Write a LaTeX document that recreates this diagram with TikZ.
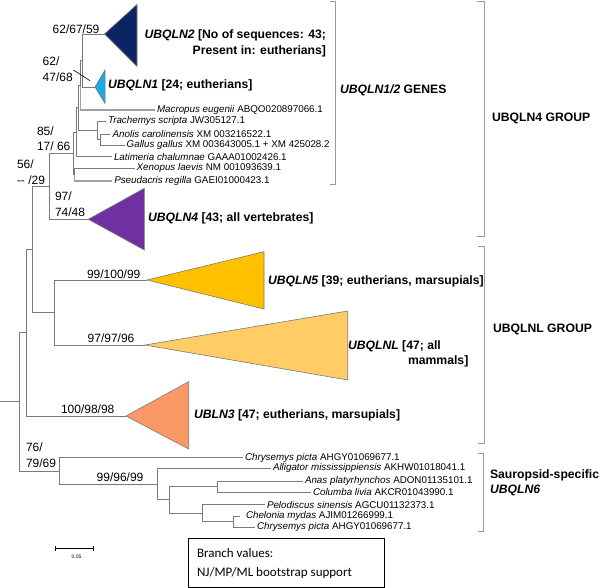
\documentclass[tikz,border=0pt]{standalone}
\usepackage{fontspec}
\setmainfont{Liberation Sans}
\newfontfamily\boxfont{Carlito}
\definecolor{treegray}{HTML}{7A7A7A}
\definecolor{lightgray}{HTML}{A0A0A0}
\definecolor{brkgray}{HTML}{9A9A9A}
\definecolor{cNavy}{HTML}{0B2462}
\definecolor{cSky}{HTML}{1EAAE4}
\definecolor{cPurple}{HTML}{7030A0}
\definecolor{cGold}{HTML}{FFC000}
\definecolor{cLight}{HTML}{FFCC66}
\definecolor{cSalmon}{HTML}{FA9966}
\begin{document}
\begin{tikzpicture}[x=1pt,y=-1pt,
  br/.style={draw=treegray, line width=0.8pt},
  brthick/.style={draw=lightgray, line width=1.3pt},
  boot/.style={font=\fontsize{12}{14}\selectfont, inner sep=0pt, outer sep=0pt, anchor=west},
  leaf/.style={font=\fontsize{9.8}{11}\selectfont, inner sep=0pt, outer sep=0pt, anchor=west},
  clade/.style={font=\bfseries\fontsize{12.2}{14}\selectfont, inner sep=0pt, outer sep=0pt, anchor=west},
  tri/.style={draw=treegray, line width=0.6pt},
  brk/.style={draw=brkgray, line width=0.9pt}]
\useasboundingbox (0,0) rectangle (600,588);

% ---- leaf / apex coordinates
\coordinate (tU2) at (104.5,34);
\coordinate (tU1) at (95,87);
\coordinate (lMac) at (155,110);
\coordinate (lTra) at (106,121);
\coordinate (lAno) at (110,134);
\coordinate (lGal) at (125,145);
\coordinate (lLat) at (112,156.5);
\coordinate (lXen) at (135,168);
\coordinate (lPse) at (112,181);
\coordinate (tU4) at (88.3,219.3);
\coordinate (tU5) at (147,280);
\coordinate (tUL) at (145,345);
\coordinate (tU3) at (126,416);
\coordinate (lChr) at (243,457.7);
\coordinate (lAll) at (271,468.3);
\coordinate (lAna) at (303,481);
\coordinate (lCol) at (311,492);
\coordinate (lPel) at (265,504.5);
\coordinate (lChe) at (240,516);
\coordinate (lChr2) at (255,527);

% ---- internal nodes
\coordinate (n12) at (82.5,60.5);
\coordinate (nMac) at (80.5,85.25);
\coordinate (nAG) at (100,139.5);
\coordinate (nT) at (97,130.25);
\coordinate (nA) at (78,107.75);
\coordinate (nLat) at (76,132.1);
\coordinate (nXP) at (74.5,174.5);
\coordinate (nTop) at (73,153.3);
\coordinate (n85) at (49,186.2);
\coordinate (n5L) at (54,312.5);
\coordinate (n56) at (32,249.3);
\coordinate (n3) at (26,332.7);
\coordinate (nAC) at (217,486.5);
\coordinate (nCC) at (233,521.5);
\coordinate (nPC) at (202,513);
\coordinate (n169) at (169,499.75);
\coordinate (n99) at (157.7,484);
\coordinate (n76) at (59,470.9);
\coordinate (root) at (19,401.8);
\coordinate (rootstart) at (0,401.8);

% ---- triangles (collapsed clades)
\filldraw[tri, fill=cNavy] (tU2) -- (137,4.5) -- (137,66.5) -- cycle;
\filldraw[tri, fill=cSky] (tU1) -- (105,70) -- (105,103.5) -- cycle;
\filldraw[tri, fill=cPurple] (tU4) -- (144.3,188.3) -- (144.3,250) -- cycle;
\filldraw[tri, fill=cGold] (tU5) -- (264,251.7) -- (264,309) -- cycle;
\filldraw[tri, fill=cLight] (tUL) -- (347.7,311) -- (347.7,380) -- cycle;
\filldraw[tri, fill=cSalmon] (tU3) -- (188.7,381.7) -- (188.7,449) -- cycle;

% ---- branches
\draw[br] (n12) |- (tU2);
\draw[br] (n12) |- (tU1);
\draw[br] (nMac) |- (n12);
\draw[brthick] (nMac) |- (lMac);
\draw[br] (nAG) |- (lAno);
\draw[br] (nAG) |- (lGal);
\draw[br] (nT) |- (lTra);
\draw[br] (nT) |- (nAG);
\draw[br] (nA) |- (nMac);
\draw[br] (nA) |- (nT);
\draw[br] (nLat) |- (nA);
\draw[br] (nLat) |- (lLat);
\draw[br] (nXP) |- (lXen);
\draw[brthick] (nXP) |- (lPse);
\draw[br] (nTop) |- (nLat);
\draw[br] (nTop) |- (nXP);
\draw[br] (n85) |- (nTop);
\draw[br] (n85) |- (tU4);
\draw[br] (n5L) |- (tU5);
\draw[br] (n5L) |- (tUL);
\draw[br] (n56) |- (n85);
\draw[br] (n56) |- (n5L);
\draw[br] (n3) |- (n56);
\draw[br] (n3) |- (tU3);
\draw[br] (nAC) |- (lAna);
\draw[br] (nAC) |- (lCol);
\draw[br] (nCC) |- (lChe);
\draw[br] (nCC) |- (lChr2);
\draw[br] (nPC) |- (lPel);
\draw[br] (nPC) |- (nCC);
\draw[br] (n169) |- (nAC);
\draw[br] (n169) |- (nPC);
\draw[br] (n99) |- (lAll);
\draw[br] (n99) |- (n169);
\draw[br] (n76) |- (lChr);
\draw[br] (n76) |- (n99);
\draw[br] (root) |- (n3);
\draw[br] (root) |- (n76);
\draw[br] (rootstart) -- (root);

% ---- leaf labels
\node[leaf] (xMac) at (157,110) {\textit{Macropus eugenii} ABQO020897066.1};
\node[leaf] (xTra) at (108,121) {\textit{Trachemys scripta} JW305127.1};
\node[leaf] (xAno) at (112.7,134) {\textit{Anolis carolinensis} XM 003216522.1};
\node[leaf] (xGal) at (126.7,145) {\textit{Gallus gallus} XM 003643005.1 + XM 425028.2};
\node[leaf] (xLat) at (114,156.5) {\textit{Latimeria chalumnae} GAAA01002426.1};
\node[leaf] (xXen) at (136.7,168) {\textit{Xenopus laevis} NM 001093639.1};
\node[leaf] (xPse) at (114.3,181) {\textit{Pseudacris regilla} GAEI01000423.1};
\node[leaf] (xChr) at (245,457.7) {\textit{Chrysemys picta} AHGY01069677.1};
\node[leaf] (xAll) at (273,468.3) {\textit{Alligator mississippiensis} AKHW01018041.1};
\node[leaf] (xAna) at (305,481) {\textit{Anas platyrhynchos} ADON01135101.1};
\node[leaf] (xCol) at (313,492) {\textit{Columba livia} AKCR01043990.1};
\node[leaf] (xPel) at (267,504.5) {\textit{Pelodiscus sinensis} AGCU01132373.1};
\node[leaf] (xChe) at (246,516) {\textit{Chelonia mydas} AJIM01266999.1};
\node[leaf] (xChr2) at (257,527) {\textit{Chrysemys picta} AHGY01069677.1};

% ---- clade labels
\node[clade, anchor=east] (cU2a) at (326,35) {\textit{UBQLN2} [No of sequences: 43;};
\node[clade, anchor=east] (cU2b) at (326,51.7) {Present in: eutherians]};
\node[clade] (cU1) at (108,85) {\textit{UBQLN1} [24; eutherians]};
\node[clade] (cU4) at (148,218) {\textit{UBQLN4} [43; all vertebrates]};
\node[clade] (cU5) at (268,281) {\textit{UBQLN5} [39; eutherians, marsupials]};
\node[clade] (cULa) at (348,346) {\textit{UBQLNL} [47; all};
\node[clade] (cULb) at (408,361) {mammals]};
\node[clade] (cU3) at (194,415) {\textit{UBLN3} [47; eutherians, marsupials]};

% ---- bootstrap values
\node[boot] (b1) at (52.7,29.3) {62/67/59};
\node[boot] (b2a) at (42.7,61.7) {62/};
\node[boot] (b2b) at (42.7,77.3) {47/68};
\coordinate (p1) at (73.3,70);
\coordinate (p2) at (90,80.7);
\draw[black, line width=0.6pt] (p1) -- (p2);
\node[boot] (b3a) at (37,131) {85/};
\node[boot] (b3b) at (37,146.7) {17/ 66};
\node[boot] (b4a) at (17,164.3) {56/};
\node[boot] (b4b) at (17,180) {-{}- /29};
\node[boot] (b5a) at (55,196) {97/};
\node[boot] (b5b) at (55,212.3) {74/48};
\node[boot] (b6) at (87,274.3) {99/100/99};
\node[boot] (b7) at (87.7,338.3) {97/97/96};
\node[boot] (b8) at (61,409.3) {100/98/98};
\node[boot] (b9a) at (26,447.3) {76/};
\node[boot] (b9b) at (26,463.3) {79/69};
\node[boot] (b10) at (96.7,477.3) {99/96/99};

% ---- brackets
\draw[brk] (330,1) -- (335,1) -- (335,184.5) -- (330,184.5);
\draw[brk] (477,1) -- (484,1) -- (484,236) -- (477,236);
\draw[brk] (478,246) -- (484,246) -- (484,443) -- (478,443);
\draw[brk] (477.7,453) -- (483.3,453) -- (483.3,531.7) -- (477.7,531.7);
\node[clade] (g1) at (340,90.7) {\textit{UBQLN1/2} GENES};
\node[clade] (g2) at (492,118) {UBQLN4 GROUP};
\node[clade] (g3) at (493,329) {UBQLNL GROUP};
\node[clade] (g4a) at (490,475) {Sauropsid-specific};
\node[clade] (g4b) at (490,490) {\textit{UBQLN6}};

% ---- scale bar
\coordinate (s1) at (55.5,548.3);
\coordinate (s2) at (93,548.3);
\draw[black, line width=0.8pt] (s1) -- (s2);
\draw[black, line width=0.8pt] ([yshift=-2.5pt]s1) -- ([yshift=2.5pt]s1);
\draw[black, line width=0.8pt] ([yshift=-2.5pt]s2) -- ([yshift=2.5pt]s2);
\node[font=\fontsize{5}{6}\selectfont, inner sep=0pt] (sl) at (76.5,557) {0.05};

% ---- legend box
\node[draw=black, line width=0.8pt, minimum width=196pt, minimum height=49pt, inner sep=0pt, anchor=north west] (legend) at (188,538) {};
\node[boot, font=\boxfont\fontsize{13}{15}\selectfont] (lg1) at (197,553) {Branch values:};
\node[boot, font=\boxfont\fontsize{13}{15}\selectfont] (lg2) at (197,573) {NJ/MP/ML bootstrap support};
\end{tikzpicture}
\end{document}
